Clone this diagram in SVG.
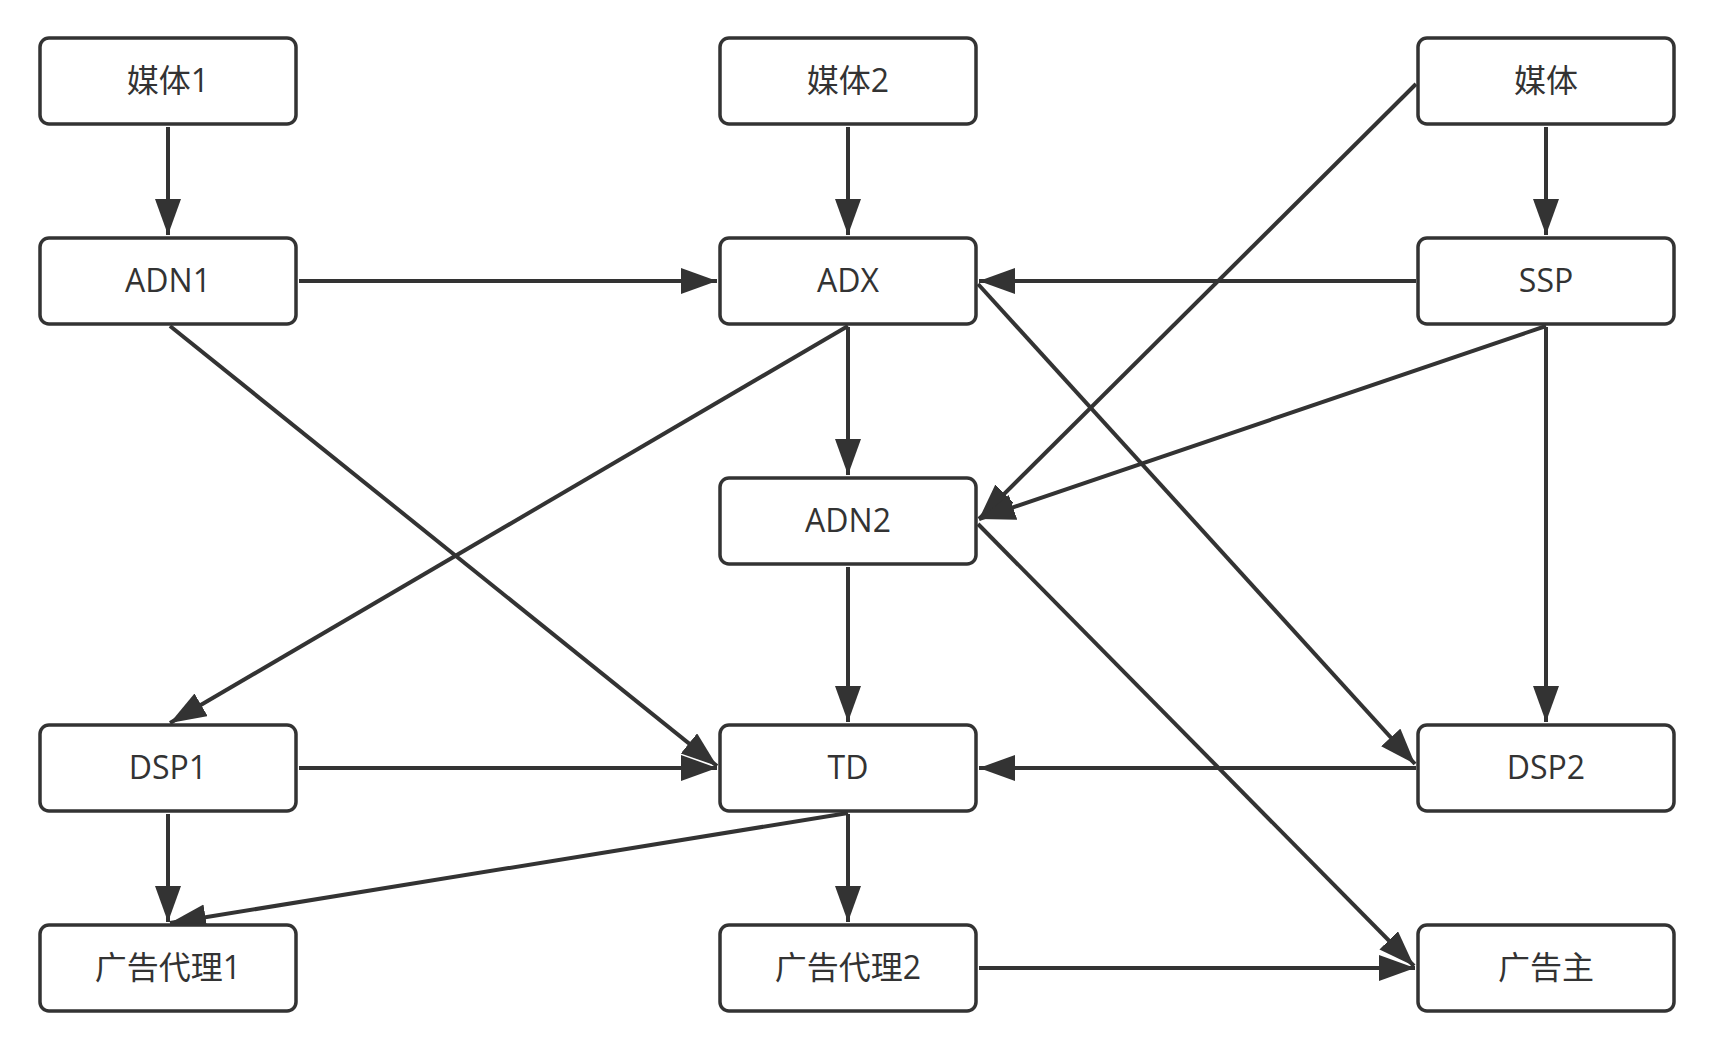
<svg xmlns="http://www.w3.org/2000/svg" width="1722" height="1051" viewBox="0 0 1722 1051">
  <style>
    .box { fill: #ffffff; stroke: #333333; stroke-width: 3.5; }
    .label { font-family: "Open Sans", "Noto Sans CJK SC", sans-serif; font-size: 32px; fill: #333333; text-anchor: middle; }
    .edge { fill: none; stroke: #333333; stroke-width: 4; marker-end: url(#arrow); }
  </style>
  <defs>
    <marker id="arrow" markerUnits="userSpaceOnUse" markerWidth="38" markerHeight="28" refX="36" refY="13" orient="auto">
      <path d="M0,0 L36,13 L0,26 Z" fill="#333333"/>
    </marker>
  </defs>
  <rect width="1722" height="1051" fill="#ffffff"/>

  <!-- connectors -->
  <g id="connectors">
    <line class="edge" x1="168" y1="127" x2="168" y2="235"/>
    <line class="edge" x1="848" y1="127" x2="848" y2="235"/>
    <line class="edge" x1="1546" y1="127" x2="1546" y2="235"/>
    <line class="edge" x1="299" y1="281" x2="717" y2="281"/>
    <line class="edge" x1="1416" y1="281" x2="979" y2="281"/>
    <line class="edge" x1="848" y1="327" x2="848" y2="475"/>
    <line class="edge" x1="1416" y1="84" x2="979" y2="519"/>
    <line class="edge" x1="1546" y1="326" x2="979" y2="519"/>
    <line class="edge" x1="1546" y1="327" x2="1546" y2="722"/>
    <line class="edge" x1="848" y1="326" x2="170" y2="723"/>
    <line class="edge" x1="978" y1="284" x2="1415" y2="764"/>
    <line class="edge" x1="170" y1="326" x2="717" y2="766"/>
    <line class="edge" x1="848" y1="567" x2="848" y2="722"/>
    <line class="edge" x1="978" y1="524" x2="1414" y2="966"/>
    <line class="edge" x1="299" y1="768" x2="717" y2="768"/>
    <line class="edge" x1="1416" y1="768" x2="979" y2="768"/>
    <line class="edge" x1="168" y1="814" x2="168" y2="922"/>
    <line class="edge" x1="848" y1="813" x2="170" y2="923"/>
    <line class="edge" x1="848" y1="814" x2="848" y2="922"/>
    <line class="edge" x1="979" y1="968" x2="1415" y2="968"/>
  </g>

  <!-- nodes -->
  <g id="node-media1">
    <rect class="box" x="40" y="38" width="256" height="86" rx="9"/>
    <text class="label" x="168" y="92">媒体1</text>
  </g>
  <g id="node-media2">
    <rect class="box" x="720" y="38" width="256" height="86" rx="9"/>
    <text class="label" x="848" y="92">媒体2</text>
  </g>
  <g id="node-media">
    <rect class="box" x="1418" y="38" width="256" height="86" rx="9"/>
    <text class="label" x="1546" y="92">媒体</text>
  </g>
  <g id="node-adn1">
    <rect class="box" x="40" y="238" width="256" height="86" rx="9"/>
    <text class="label" x="168" y="292">ADN1</text>
  </g>
  <g id="node-adx">
    <rect class="box" x="720" y="238" width="256" height="86" rx="9"/>
    <text class="label" x="848" y="292">ADX</text>
  </g>
  <g id="node-ssp">
    <rect class="box" x="1418" y="238" width="256" height="86" rx="9"/>
    <text class="label" x="1546" y="292">SSP</text>
  </g>
  <g id="node-adn2">
    <rect class="box" x="720" y="478" width="256" height="86" rx="9"/>
    <text class="label" x="848" y="532">ADN2</text>
  </g>
  <g id="node-dsp1">
    <rect class="box" x="40" y="725" width="256" height="86" rx="9"/>
    <text class="label" x="168" y="779">DSP1</text>
  </g>
  <g id="node-td">
    <rect class="box" x="720" y="725" width="256" height="86" rx="9"/>
    <text class="label" x="848" y="779">TD</text>
  </g>
  <g id="node-dsp2">
    <rect class="box" x="1418" y="725" width="256" height="86" rx="9"/>
    <text class="label" x="1546" y="779">DSP2</text>
  </g>
  <g id="node-agency1">
    <rect class="box" x="40" y="925" width="256" height="86" rx="9"/>
    <text class="label" x="168" y="979">广告代理1</text>
  </g>
  <g id="node-agency2">
    <rect class="box" x="720" y="925" width="256" height="86" rx="9"/>
    <text class="label" x="848" y="979">广告代理2</text>
  </g>
  <g id="node-advertiser">
    <rect class="box" x="1418" y="925" width="256" height="86" rx="9"/>
    <text class="label" x="1546" y="979">广告主</text>
  </g>
</svg>
